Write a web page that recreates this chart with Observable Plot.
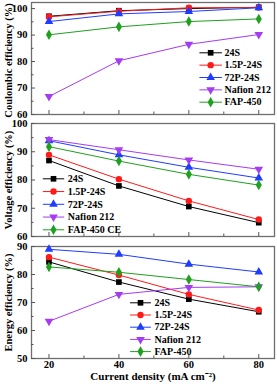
<!DOCTYPE html>
<html>
<head>
<meta charset="utf-8">
<script src="https://cdn.jsdelivr.net/npm/d3@7"></script>
<script src="https://cdn.jsdelivr.net/npm/@observablehq/plot@0.6"></script>
<style>
  html, body { margin: 0; padding: 0; background: #fff; }
  #chart svg { display: block; overflow: visible; }
</style>
</head>
<body>
<div id="chart"></div>
<script>
// ---- data ----
const currentDensity = [20, 40, 60, 80];
const seriesNames = ["24S", "1.5P-24S", "72P-24S", "Nafion 212", "FAP-450"];
const legend2Names = ["24S", "1.5P-24S", "72P-24S", "Nafion 212", "FAP-450 CE"];
const seriesColors = ["#000000", "#ff1a1a", "#1f3dff", "#a43cf0", "#1fa01f"];
const seriesSymbols = ["square", "circle", "triangle", "triangle", "diamond"];
const seriesRotate = [0, 0, 0, 180, 0];

// Coulombic efficiency (%)
const ce24S     = [97.1, 99.2, 100.0, 100.5];
const ce15P     = [96.9, 99.0, 100.3, 100.4];
const ce72P     = [95.1, 98.0, 98.9, 100.3];
const ceNafion  = [66.8, 80.3, 86.5, 90.2];
const ceFAP     = [90.1, 93.1, 95.1, 96.1];
// Voltage efficiency (%)
const ve24S     = [86.9, 77.9, 70.6, 64.9];
const ve15P     = [88.9, 80.3, 72.6, 66.0];
const ve72P     = [93.9, 88.9, 84.5, 80.7];
const veNafion  = [94.3, 90.7, 87.1, 83.8];
const veFAP     = [91.8, 86.7, 82.0, 78.2];
// Energy efficiency (%)
const ee24S     = [84.5, 77.3, 71.2, 66.7];
const ee15P     = [86.2, 79.8, 72.9, 67.3];
const ee72P     = [89.0, 87.2, 83.7, 80.9];
const eeNafion  = [63.3, 72.9, 75.4, 75.6];
const eeFAP     = [82.7, 80.8, 78.2, 75.6];

const yTitles = ["Coulombic efficiency (%)", "Voltage efficiency (%)", "Energy efficiency (%)"];
const xTitle = "Current density (mA cm\u207B\u00B2)";
const xTicksMajor = [20, 40, 60, 80];
const xTicksMinor = [30, 50, 70];

// ---- helpers ----
const W = 277, ML = 31, MR = 3;
const plotW = W - ML - MR;
const xDomain = [15, 84.5];
const font = "'Liberation Serif', 'Times New Roman', serif";

function rowsOf(arrays) {
  const rows = [];
  arrays.forEach((vals, i) => vals.forEach((v, j) =>
    rows.push({x: currentDensity[j], y: v, s: seriesNames[i], i})));
  return rows;
}

function panel({arrays, yDomain, yMajor, yMinor, mt, mb, plotH, title, titleSize, titleDy, legendNames, leg, showX}) {
  const height = mt + plotH + mb;
  const rows = rowsOf(arrays);
  const px2x = p => xDomain[0] + p / plotW * (xDomain[1] - xDomain[0]);
  const py2y = p => yDomain[1] - p / plotH * (yDomain[1] - yDomain[0]);
  const legRows = legendNames.map((name, i) => ({name, i, y: py2y(leg.y0 + i * leg.dy)}));
  const legLines = legRows.flatMap(r => [
    {x: px2x(leg.x0), y: r.y, s: seriesNames[r.i]},
    {x: px2x(leg.x1), y: r.y, s: seriesNames[r.i]}]);
  const legDots = legRows.map(r => ({x: px2x((leg.x0 + leg.x1) / 2), y: r.y, s: seriesNames[r.i], i: r.i}));
  const legText = legRows.map(r => ({x: px2x(leg.xt), y: r.y, name: r.name}));

  const marks = [
    Plot.frame({stroke: "#6e6e6e", strokeWidth: 1.3}),
    Plot.ruleX(xTicksMajor, {x: d => d, insetTop: plotH - 4, stroke: "#555", strokeWidth: 1}),
    Plot.ruleX(xTicksMinor, {x: d => d, insetTop: plotH - 2.5, stroke: "#555", strokeWidth: 1}),
    Plot.ruleY(yMajor, {y: d => d, insetRight: plotW - 4, stroke: "#555", strokeWidth: 1}),
    Plot.ruleY(yMinor, {y: d => d, insetRight: plotW - 2.5, stroke: "#555", strokeWidth: 1}),
    Plot.axisY({ticks: yMajor, tickSize: 0, tickPadding: 4, label: null, fontWeight: "bold", fontSize: 10.5}),
    Plot.text([title], {frameAnchor: "left", dx: -23, dy: titleDy, rotate: -90, text: d => d,
      textAnchor: "middle", lineAnchor: "middle",
      fontWeight: "bold", fontSize: titleSize, fill: "#000"}),
    Plot.line(rows, {x: "x", y: "y", z: "s", stroke: "s", strokeWidth: 1}),
    Plot.dot(rows, {x: "x", y: "y", fill: "s", symbol: "s", r: 3.2, rotate: d => seriesRotate[d.i]}),
    Plot.line(legLines, {x: "x", y: "y", z: "s", stroke: "s", strokeWidth: 1}),
    Plot.dot(legDots, {x: "x", y: "y", fill: "s", symbol: "s", r: 3.2, rotate: d => seriesRotate[d.i]}),
    Plot.text(legText, {x: "x", y: "y", text: "name", textAnchor: "start", fontWeight: "bold", fontSize: 10, fill: "#000"})
  ];
  if (showX) {
    marks.push(Plot.axisX({ticks: xTicksMajor, tickSize: 0, tickPadding: 2, label: null, fontWeight: "bold", fontSize: 10.5}));
    marks.push(Plot.text([xTitle], {frameAnchor: "bottom", dy: 21, text: d => d, textAnchor: "middle", fontWeight: "bold", fontSize: 11, fill: "#000"}));
  }
  return Plot.plot({
    width: W, height,
    marginLeft: ML, marginRight: MR, marginTop: mt, marginBottom: mb,
    style: {fontFamily: font, fontSize: "11px", fontWeight: "bold", color: "#000", background: "#fff", overflow: "visible"},
    x: {domain: xDomain, axis: null},
    y: {domain: yDomain, axis: null},
    color: {domain: seriesNames, range: seriesColors},
    symbol: {domain: seriesNames, range: seriesSymbols},
    marks
  });
}

const chart = document.getElementById("chart");
chart.append(panel({
  arrays: [ce24S, ce15P, ce72P, ceNafion, ceFAP],
  yDomain: [60, 102.3], yMajor: [60, 70, 80, 90, 100], yMinor: [65, 75, 85, 95],
  mt: 2, mb: 5, plotH: 112, title: yTitles[0], titleSize: 10.5, titleDy: 2, legendNames: seriesNames,
  leg: {x0: 168.3, x1: 190, xt: 193, y0: 50.3, dy: 12.35}, showX: false
}));
chart.append(panel({
  arrays: [ve24S, ve15P, ve72P, veNafion, veFAP],
  yDomain: [60, 100], yMajor: [60, 70, 80, 90, 100], yMinor: [65, 75, 85, 95],
  mt: 4, mb: 5, plotH: 113, title: yTitles[1], titleSize: 10.5, titleDy: 0, legendNames: legend2Names,
  leg: {x0: 11.7, x1: 32.3, xt: 36.3, y0: 55.3, dy: 12.75}, showX: false
}));
chart.append(panel({
  arrays: [ee24S, ee15P, ee72P, eeNafion, eeFAP],
  yDomain: [50, 90], yMajor: [50, 60, 70, 80, 90], yMinor: [55, 65, 75, 85],
  mt: 5, mb: 28, plotH: 112, title: yTitles[2], titleSize: 10.5, titleDy: 0, legendNames: seriesNames,
  leg: {x0: 99, x1: 119, xt: 123, y0: 56.3, dy: 12.2}, showX: true
}));
</script>
</body>
</html>
